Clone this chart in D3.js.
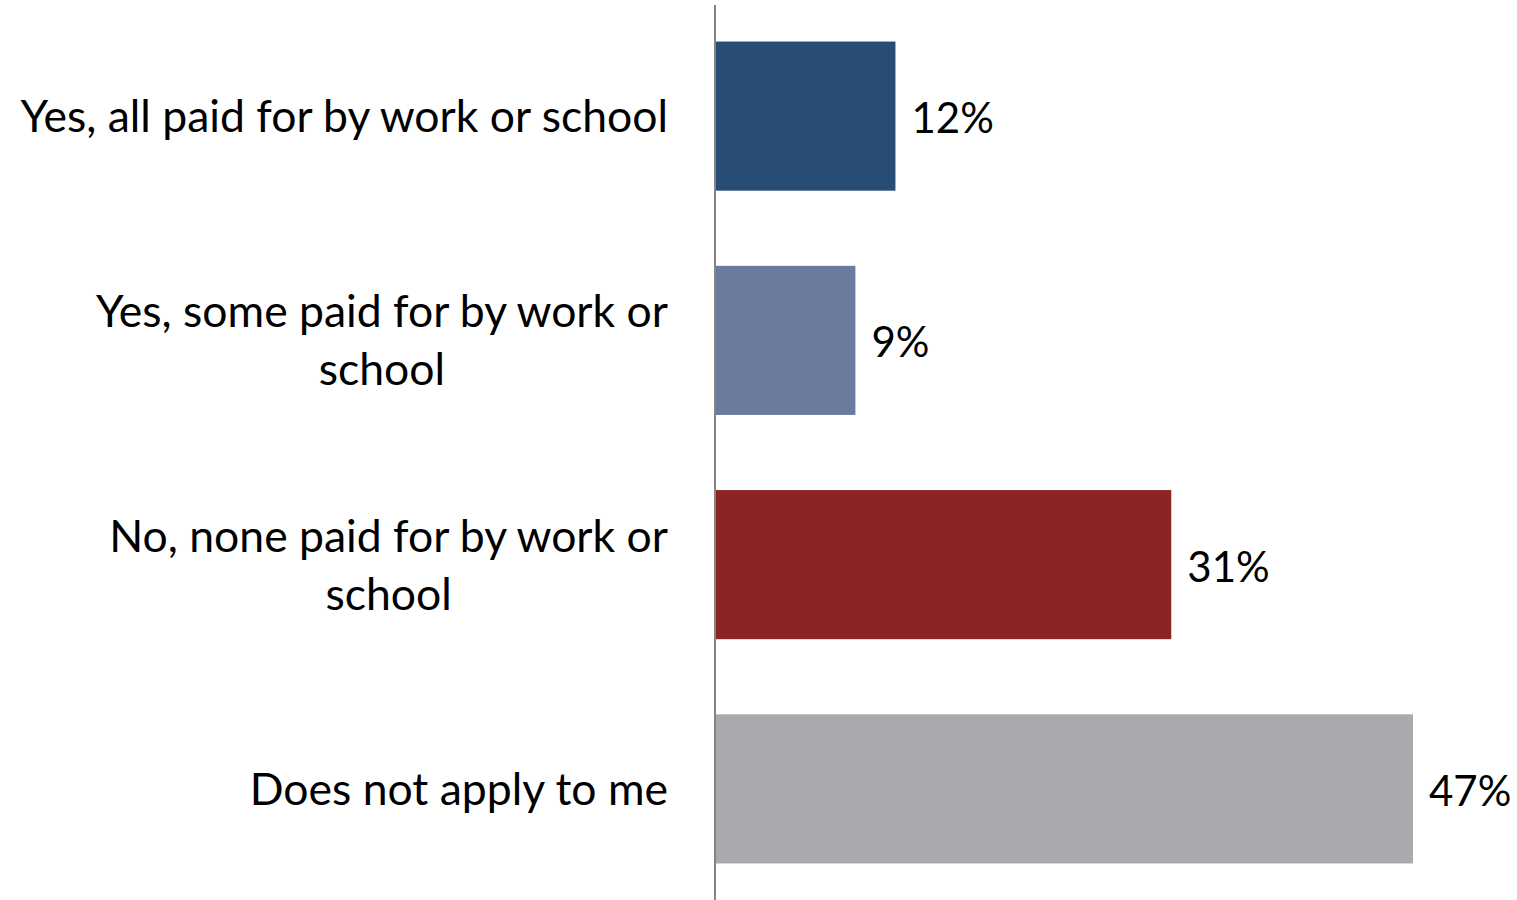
<!DOCTYPE html>
<html>
<head>
<meta charset="utf-8">
<script src="https://cdn.jsdelivr.net/npm/d3@7"></script>
<style>
  html, body { margin: 0; padding: 0; background: #ffffff; }
  svg { display: block; }
  text { font-family: Lato, "Open Sans", sans-serif; fill: #000; }
</style>
</head>
<body>
<svg id="chart" width="1517" height="900"></svg>
<script>
const categories = [
  ["Yes, all paid for by work or school"],
  ["Yes, some paid for by work or", "school"],
  ["No, none paid for by work or", "school"],
  ["Does not apply to me"]
];
const values = [12.1, 9.4, 30.7, 47.0];
const valueLabels = ["12%", "9%", "31%", "47%"];
const colors = ["#284d75", "#6b7b9e", "#8c2423", "#a9aaae"];

const svg = d3.select("#chart");
const x0 = 716;
const catFontSize = 44.5;
const valFontSize = 42;

const x = d3.scaleLinear().domain([0, 47]).range([x0, 1413]);
const y = d3.scaleBand().domain(d3.range(categories.length))
  .range([5, 900]).paddingInner(0.335).paddingOuter(0.163);

const g = svg.append("g");

g.selectAll("rect.bar").data(values).join("rect")
  .attr("class", "bar")
  .attr("x", x(0))
  .attr("y", (d, i) => y(i))
  .attr("width", d => x(d) - x(0))
  .attr("height", y.bandwidth())
  .attr("fill", (d, i) => colors[i]);

// axis line
g.append("line")
  .attr("x1", 715).attr("x2", 715)
  .attr("y1", 5).attr("y2", 900)
  .attr("stroke", "#858585").attr("stroke-width", 2);

// value labels
g.selectAll("text.val").data(values).join("text")
  .attr("class", "val")
  .attr("x", d => x(d) + 16)
  .attr("y", (d, i) => y(i) + y.bandwidth() / 2 + 1)
  .attr("dominant-baseline", "central")
  .attr("font-size", valFontSize)
  .text((d, i) => valueLabels[i]);

// category labels
const lineH = 58;
const labelRight = 668;
categories.forEach((lines, i) => {
  const cy = y(i) + y.bandwidth() / 2 - 2;
  const t = g.append("text")
    .attr("font-size", catFontSize)
    .attr("dominant-baseline", "central");
  const n = lines.length;
  lines.forEach((ln, j) => {
    t.append("tspan").attr("y", cy + (j - (n - 1) / 2) * lineH).text(ln);
  });
  const widths = [];
  t.selectAll("tspan").each(function () { widths.push(this.getComputedTextLength()); });
  const maxW = d3.max(widths);
  const center = labelRight - maxW / 2;
  t.attr("text-anchor", "middle");
  t.selectAll("tspan").attr("x", center);
});
</script>
</body>
</html>
